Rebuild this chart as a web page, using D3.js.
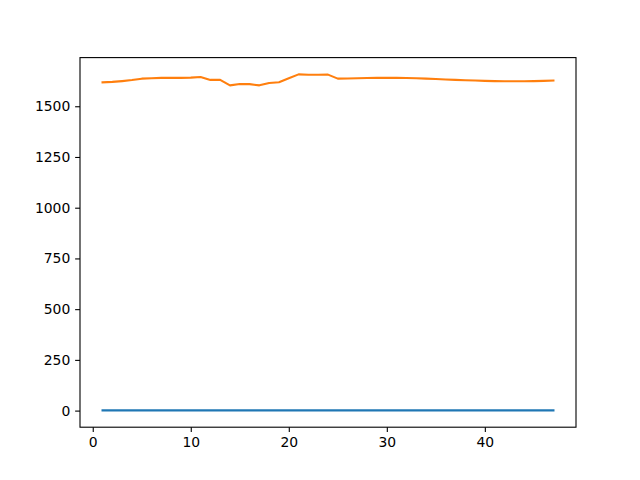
<!DOCTYPE html>
<html><head><meta charset="utf-8">
<script src="https://cdn.jsdelivr.net/npm/d3@7"></script>
<style>body{margin:0;background:#fff}svg{display:block}text{font-family:"DejaVu Sans",sans-serif}</style>
</head><body>
<svg id="c" width="640" height="480"></svg>
<script>
const xValues = d3.range(1, 48);
const seriesA = Array(47).fill(1);
const seriesB = [1618,1620,1624,1629,1636,1638,1640,1640,1640,1641,1644,1630,1630,1603,1610,1609,1603,1615,1618,1638,1657,1655,1655,1656,1636,1637,1638,1639,1640,1640,1640,1639,1638,1636,1634,1632,1630,1628,1627,1625,1624,1623,1623,1623,1624,1625,1627];
const xTicks = [0,10,20,30,40];
const yTicks = [0,250,500,750,1000,1250,1500];
const colors = ["#1f77b4","#ff7f0e"];

const svg = d3.select("#c");
const L=80, R=576, T=57.6, B=427.2;
const xmin=1, xmax=47, xpad=(xmax-xmin)*0.05;
const allY = seriesA.concat(seriesB);
const ymin=d3.min(allY), ymax=d3.max(allY), ypad=(ymax-ymin)*0.05;
const x = d3.scaleLinear().domain([xmin-xpad, xmax+xpad]).range([L,R]);
const y = d3.scaleLinear().domain([ymin-ypad, ymax+ypad]).range([B,T]);

const line = d3.line().x((d,i)=>x(xValues[i])).y(d=>y(d));
[seriesA, seriesB].forEach((s,k)=>{
  svg.append("path").datum(s).attr("d", line).attr("fill","none")
    .attr("stroke", colors[k]).attr("stroke-width",2.08).attr("stroke-linecap","square").attr("stroke-linejoin","round");
});

const xa = svg.append("g").attr("transform",`translate(0,${B})`)
  .call(d3.axisBottom(x).tickValues(xTicks).tickSize(4.86).tickPadding(4.9).tickFormat(d3.format("d")));
const ya = svg.append("g").attr("transform",`translate(${L},0)`)
  .call(d3.axisLeft(y).tickValues(yTicks).tickSize(4.86).tickPadding(4.9).tickFormat(d3.format("d")));
[xa,ya].forEach(a=>{
  a.select(".domain").remove();
  a.selectAll("line").attr("stroke","#000").attr("stroke-width",1.1);
  a.selectAll("text").attr("font-size","13.9px").attr("fill","#000").attr("font-family","DejaVu Sans");
});
svg.append("rect").attr("x",L).attr("y",T).attr("width",R-L).attr("height",B-T)
  .attr("fill","none").attr("stroke","#000").attr("stroke-width",1.1);
</script>
</body></html>
